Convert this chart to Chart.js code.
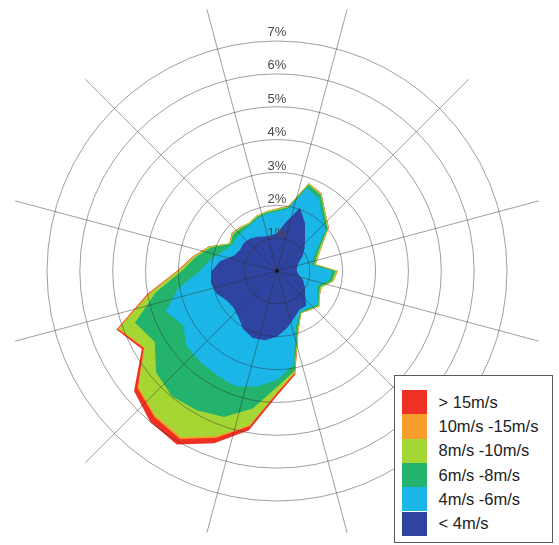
<!DOCTYPE html>
<html>
<head>
<meta charset="utf-8">
<title>Wind rose</title>
<script src="https://cdn.jsdelivr.net/npm/chart.js@4.4.1/dist/chart.umd.min.js"></script>
<style>
  html, body { margin: 0; padding: 0; background: #fff; }
  #wrap { position: relative; width: 559px; height: 545px; overflow: hidden; }
  #holder { position: absolute; left: -6px; top: -6px; width: 566px; height: 555px; }
  #legend {
    position: absolute; left: 394px; top: 375px; width: 159px; height: 168px;
    box-sizing: border-box; border: 1.5px solid #5a5a5a; background: #fff;
    font-family: "Liberation Sans", Arial, sans-serif; font-size: 16.5px; color: #222;
  }
  #legend .row { position: absolute; left: 6.5px; height: 24.3px; display: flex; align-items: center; }
  #legend .sw { width: 25px; height: 100%; }
  #legend .txt { margin-left: 12px; white-space: nowrap; }
</style>
</head>
<body>
<div id="wrap">
  <div id="holder"><canvas id="rose"></canvas></div>
  <div id="legend"></div>
</div>
<script>
"use strict"

// speed classes, inner to outer
const speedClasses = ['< 4m/s', '4m/s -6m/s', '6m/s -8m/s', '8m/s -10m/s', '10m/s -15m/s', '> 15m/s']
const classColors = ['#2f44a0', '#1ab6e8', '#23b36c', '#a4d734', '#f89c2a', '#ee3124']

// sampled directions (degrees, clockwise from north)
const directions = [0, 10, 20, 30, 40, 50, 60, 70, 80, 90, 100, 110,
    120, 130, 140, 150, 160, 170, 180, 190, 200, 210, 220, 230,
    240, 250, 260, 270, 280, 290, 300, 310, 320, 330, 340, 350]

// cumulative frequency (%) up to each class
const upTo4 = [1.15, 1.5, 2.04, 1.7, 1.33, 1.1, 0.9, 0.69, 0.62, 0.6, 0.68, 0.85,
    0.98, 1.12, 1.38, 1.36, 1.52, 1.76, 2.0, 2.14, 2.17, 2.05, 1.83, 1.73,
    1.78, 1.97, 2.04, 1.99, 1.75, 1.38, 1.3, 1.32, 1.28, 1.2, 1.12, 1.1]
const upTo6 = [1.82, 1.92, 2.68, 2.55, 2.15, 1.93, 1.42, 1.18, 1.08, 1.68, 1.62, 1.3,
    1.42, 1.6, 1.48, 1.42, 1.72, 2.9, 3.32, 3.58, 3.73, 3.66, 3.62, 3.58,
    3.3, 3.6, 3.05, 2.35, 2.05, 1.75, 1.58, 1.6, 1.6, 1.62, 1.72, 1.78]
const upTo8 = [1.86, 1.97, 2.79, 2.66, 2.25, 2.0, 1.53, 1.28, 1.15, 1.78, 1.7, 1.4,
    1.47, 1.65, 1.53, 1.46, 1.85, 3.08, 3.53, 4.25, 4.73, 4.89, 4.98, 4.8,
    4.3, 4.6, 3.75, 2.9, 2.5, 2.12, 1.64, 1.74, 1.7, 1.66, 1.76, 1.81]
const upTo10 = [1.89, 2.0, 2.83, 2.7, 2.29, 2.04, 1.58, 1.34, 1.19, 1.83, 1.74, 1.44,
    1.49, 1.67, 1.55, 1.47, 1.9, 3.12, 3.68, 4.76, 5.34, 5.84, 5.75, 5.5,
    4.65, 5.12, 3.93, 3.0, 2.56, 2.17, 1.67, 1.78, 1.74, 1.69, 1.79, 1.84]
const upTo15 = [1.9, 2.01, 2.84, 2.71, 2.3, 2.05, 1.6, 1.35, 1.2, 1.85, 1.75, 1.45,
    1.5, 1.68, 1.56, 1.48, 1.91, 3.15, 3.72, 4.8, 5.4, 5.9, 5.8, 5.54,
    4.68, 5.16, 3.97, 3.03, 2.58, 2.19, 1.68, 1.79, 1.75, 1.7, 1.8, 1.85]
const allSpeeds = [1.9, 2.02, 2.84, 2.72, 2.3, 2.06, 1.6, 1.35, 1.2, 1.85, 1.75, 1.45,
    1.5, 1.68, 1.56, 1.48, 1.92, 3.2, 3.8, 4.92, 5.58, 6.1, 6.0, 5.68,
    4.75, 5.2, 4.0, 3.05, 2.6, 2.2, 1.68, 1.8, 1.75, 1.7, 1.8, 1.85]

const ringLabels = ['1%', '2%', '3%', '4%', '5%', '6%', '7%']

// 5 degree grid so the spokes can sit at 15, 45, 75 ...
const labels = directions.flatMap(d => [d + '°', (d + 5) + '°'])
const onGrid = arr => arr.flatMap(v => [v, null])

const series = [upTo4, upTo6, upTo8, upTo10, upTo15, allSpeeds]
const rMax = 7 * 271 / 230
const gridColor = 'rgba(45, 45, 45, 0.5)'

Chart.defaults.font.family = '"Liberation Sans", Arial, sans-serif'

const legendBox = document.getElementById('legend')
for (let i = speedClasses.length - 1, row = 0; i >= 0; i--, row++) {
    const div = document.createElement('div')
    div.className = 'row'
    div.style.top = (14 + row * 24.3) + 'px'
    div.innerHTML = `<span class="sw" style="background:${classColors[i]}"></span><span class="txt">${speedClasses[i]}</span>`
    legendBox.appendChild(div)
}

// small dot at the pole
const centerDot = {
    id: 'centerDot',
    afterDraw(chart) {
        const r = chart.scales.r
        const ctx = chart.ctx
        ctx.save()
        ctx.fillStyle = '#111'
        ctx.beginPath()
        ctx.arc(r.xCenter, r.yCenter, 1.8, 0, Math.PI * 2)
        ctx.fill()
        ctx.restore()
    }
}

new Chart(document.getElementById('rose').getContext('2d'), {
    type: 'radar',
    data: {
        labels: labels,
        datasets: series.map((vals, i) => ({
            label: speedClasses[i],
            data: onGrid(vals),
            backgroundColor: classColors[i],
            borderWidth: 0,
            fill: 'origin',
            spanGaps: true,
            pointRadius: 0,
            pointHitRadius: 0
        }))
    },
    options: {
        responsive: true,
        maintainAspectRatio: false,
        animation: false,
        layout: { padding: 0 },
        plugins: {
            legend: { display: false },
            tooltip: { enabled: false }
        },
        scales: {
            r: {
                min: 0,
                max: rMax,
                grid: {
                    z: 1,
                    circular: true,
                    color: gridColor,
                    lineWidth: ctx => (ctx.tick && ctx.tick.value > 7.01) ? 0 : 0.9
                },
                angleLines: {
                    color: gridColor,
                    lineWidth: ctx => ctx.index % 6 === 3 ? 0.9 : 0
                },
                pointLabels: { display: false },
                ticks: {
                    stepSize: 1,
                    showLabelBackdrop: false,
                    backdropPadding: 0,
                    font: { size: 13 },
                    callback: () => ''
                }
            },
            ringText: {
                type: 'radialLinear',
                min: -0.125,
                max: 7.965,
                grid: { display: false },
                angleLines: { display: false },
                pointLabels: { display: false },
                ticks: {
                    z: 2,
                    stepSize: 1,
                    showLabelBackdrop: false,
                    backdropPadding: 0,
                    color: '#4a4a4a',
                    font: { size: 13 },
                    callback: v => (Number.isInteger(v) && v >= 1 && v <= 7) ? ringLabels[v - 1] : ''
                }
            }
        }
    },
    plugins: [centerDot]
})
</script>
</body>
</html>
